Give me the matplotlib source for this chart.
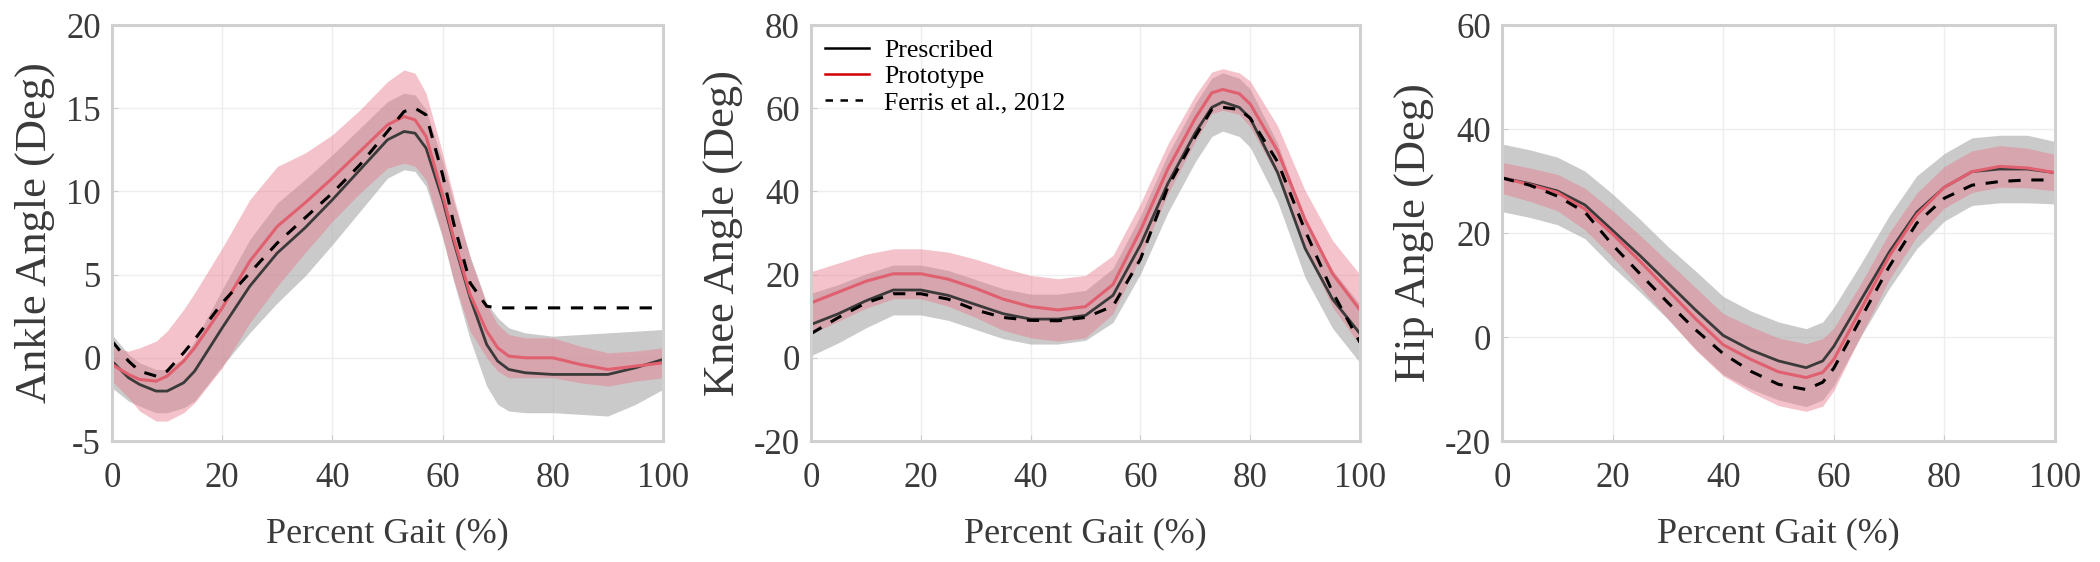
import numpy as np
import matplotlib
matplotlib.use('Agg')
import matplotlib.pyplot as plt

# ---------------------------------------------------------------------
# data (percent gait vs joint angle, deg)

ankle_x = [0, 3, 5, 8, 10, 13, 15, 20, 25, 30, 35, 40, 45, 50, 53, 55, 57,
           60, 62, 65, 68, 70, 72, 75, 80, 85, 90, 95, 100]
ankle_presc = [-0.2, -1.2, -1.6, -2.0, -2.0, -1.5, -0.8, 1.8, 4.3, 6.3, 7.8,
               9.5, 11.3, 13.1, 13.6, 13.5, 12.6, 9.5, 7.0, 3.6, 0.8, -0.2,
               -0.7, -0.9, -1.0, -1.0, -1.0, -0.6, -0.1]
ankle_presc_sd = [1.6, 1.4, 1.3, 1.3, 1.3, 1.5, 1.8, 2.3, 2.8, 3.0, 2.9, 2.7,
                  2.5, 2.3, 2.3, 2.3, 2.3, 2.3, 2.4, 2.5, 2.5, 2.6, 2.5, 2.4,
                  2.3, 2.4, 2.5, 2.2, 1.8]
ankle_proto = [-0.4, -1.0, -1.3, -1.4, -1.1, -0.2, 0.6, 3.0, 5.8, 7.9, 9.3,
               10.8, 12.4, 14.0, 14.5, 14.3, 13.3, 9.8, 7.2, 3.8, 1.6, 0.6,
               0.1, 0.0, 0.0, -0.4, -0.7, -0.5, -0.3]
ankle_proto_sd = [1.0, 1.4, 1.9, 2.4, 2.7, 3.1, 3.3, 3.6, 3.7, 3.6, 3.0, 2.6,
                  2.5, 2.6, 2.8, 2.8, 2.6, 2.5, 2.5, 2.2, 1.6, 1.4, 1.3, 1.2,
                  1.2, 1.1, 1.0, 0.9, 0.9]
ankle_ferris = [1.0, -0.2, -0.8, -1.1, -0.8, 0.3, 1.1, 3.3, 5.1, 6.9, 8.4,
                9.9, 11.6, 13.6, 14.8, 15.0, 14.6, 11.0, 8.1, 4.5, 3.1, 3.0,
                3.0, 3.0, 3.0, 3.0, 3.0, 3.0, 3.0]

knee_x = [0, 5, 10, 15, 20, 25, 30, 35, 40, 45, 50, 55, 60, 65, 70, 73, 75,
          78, 80, 85, 90, 95, 100]
knee_presc = [8.0, 10.6, 13.7, 16.3, 16.3, 15.0, 12.8, 10.6, 9.3, 9.3, 10.2,
              15.0, 27.1, 41.9, 54.1, 60.2, 61.5, 60.2, 57.6, 44.5, 26.3,
              14.1, 5.8]
knee_presc_sd = [7.5, 7.0, 6.5, 6.0, 6.0, 6.0, 6.0, 6.0, 6.0, 6.0, 6.0, 6.5,
                 7.0, 7.0, 7.0, 7.0, 7.0, 7.0, 7.0, 7.0, 7.0, 7.0, 7.0]
knee_proto = [13.2, 15.8, 18.4, 20.2, 20.2, 18.9, 16.7, 14.1, 12.3, 11.5,
              12.3, 17.6, 30.6, 45.4, 57.6, 63.7, 64.5, 63.5, 61.0, 49.7,
              33.2, 20.2, 11.5]
knee_proto_sd = [7.5, 7.0, 6.5, 6.0, 6.0, 6.5, 7.0, 7.5, 7.5, 7.5, 7.5, 7.0,
                 6.5, 6.0, 5.5, 5.0, 5.0, 5.0, 5.5, 6.0, 7.0, 8.0, 8.5]
knee_ferris = [5.8, 9.7, 13.2, 15.4, 15.4, 14.1, 11.5, 9.7, 9.0, 8.9, 9.7,
               12.4, 23.7, 41.0, 53.2, 59.7, 60.2, 59.7, 57.6, 47.1, 30.6,
               15.8, 3.7]

hip_x = [0, 5, 10, 15, 20, 25, 30, 35, 40, 45, 50, 55, 58, 60, 65, 70, 75,
         80, 85, 90, 95, 100]
hip_presc = [30.6, 29.5, 28.1, 25.4, 20.5, 15.6, 10.4, 5.2, 0.3, -2.5, -4.6,
             -5.9, -4.6, -1.8, 7.3, 16.3, 24.0, 28.8, 31.8, 32.3, 32.3, 31.6]
hip_presc_sd = [6.5, 6.5, 6.5, 6.5, 7.0, 7.0, 7.0, 7.5, 7.5, 7.5, 7.5, 7.5,
                7.5, 7.5, 7.0, 7.0, 7.0, 6.5, 6.5, 6.5, 6.5, 6.0]
hip_proto = [30.6, 29.3, 27.8, 24.6, 19.8, 14.5, 9.0, 3.5, -1.5, -4.3, -6.7,
             -7.8, -6.8, -4.3, 5.5, 15.5, 23.5, 28.8, 31.8, 32.8, 32.5, 31.6]
hip_proto_sd = [3.0, 3.2, 3.5, 4.0, 4.5, 5.0, 5.5, 6.0, 6.0, 6.3, 6.5, 6.5,
                6.5, 6.0, 5.0, 4.5, 4.2, 4.0, 4.0, 4.0, 3.8, 3.5]
hip_ferris = [30.6, 29.2, 27.1, 24.0, 17.7, 12.1, 6.6, 1.4, -3.2, -6.6, -9.1,
              -10.1, -8.7, -6.0, 3.8, 13.5, 21.9, 26.7, 29.2, 29.9, 30.2, 30.2]

ylabels = ['Ankle Angle (Deg)', 'Knee Angle (Deg)', 'Hip Angle (Deg)']
ylims = [(-5, 20), (-20, 80), (-20, 60)]
yticks = [[-5, 0, 5, 10, 15, 20], [-20, 0, 20, 40, 60, 80], [-20, 0, 20, 40, 60]]
xticks = [0, 20, 40, 60, 80, 100]
legend_labels = ['Prescribed', 'Prototype', 'Ferris et al., 2012']

# ---------------------------------------------------------------------

plt.rcParams['font.family'] = ['Liberation Serif', 'DejaVu Serif']
plt.rcParams['axes.unicode_minus'] = False

fig = plt.figure(figsize=(21, 5.62), dpi=100)

rects = [[112/2100., 121/562., 551/2100., 416/562.],
         [811/2100., 121/562., 549/2100., 416/562.],
         [1502/2100., 121/562., 553/2100., 416/562.]]

panels = [
    (ankle_x, ankle_presc, ankle_presc_sd, ankle_proto, ankle_proto_sd, ankle_ferris),
    (knee_x, knee_presc, knee_presc_sd, knee_proto, knee_proto_sd, knee_ferris),
    (hip_x, hip_presc, hip_presc_sd, hip_proto, hip_proto_sd, hip_ferris),
]

gray_band = '#a0a0a0'
pink_band = '#e8788a'
red_line = '#e06070'
text_col = '#3a3a3a'

for i, (x, pr, pr_sd, pt, pt_sd, fe) in enumerate(panels):
    ax = fig.add_axes(rects[i])
    x = np.array(x)
    pr = np.array(pr)
    pr_sd = np.array(pr_sd)
    pt = np.array(pt)
    pt_sd = np.array(pt_sd)

    ax.fill_between(x, pr - pr_sd, pr + pr_sd, color=gray_band, alpha=0.55, lw=0)
    ax.plot(x, pr, color='#3a3a3a', lw=2.0)
    ax.fill_between(x, pt - pt_sd, pt + pt_sd, color=pink_band, alpha=0.45, lw=0)
    ax.plot(x, pt, color=red_line, lw=2.2)
    ax.plot(x, fe, color='k', lw=2.2, ls=(0, (4, 3.5)))

    ax.set_xlim(0, 100)
    ax.set_ylim(*ylims[i])
    ax.set_xticks(xticks)
    ax.set_yticks(yticks[i])
    ax.grid(True, color='#eeeeee', lw=1)
    ax.set_axisbelow(True)
    for s in ax.spines.values():
        s.set_color('#d0d0d0')
        s.set_linewidth(2.2)
    ax.tick_params(direction='in', length=4, color='#cccccc',
                   labelsize=25, labelcolor=text_col)
    ax.tick_params(axis='x', pad=15)
    ax.tick_params(axis='y', pad=8)
    ax.set_xlabel('Percent Gait (%)', fontsize=26, color=text_col, labelpad=16)
    ax.set_ylabel(ylabels[i], fontsize=32, color=text_col, labelpad=8)

    if i == 1:
        h1, = ax.plot([], [], color='k', lw=1.8)
        h2, = ax.plot([], [], color='#d00000', lw=1.8)
        h3, = ax.plot([], [], color='k', lw=1.8, ls=(0, (3, 3)))
        ax.legend([h1, h2, h3], legend_labels, loc='upper left', frameon=False,
                  fontsize=18.5, handlelength=1.7, handletextpad=0.6,
                  labelspacing=0.12, borderaxespad=0.15)

fig.savefig('out.png', dpi=100)
